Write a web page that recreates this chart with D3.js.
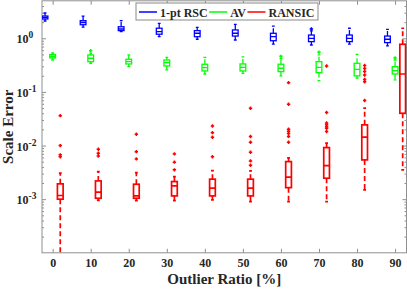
<!DOCTYPE html>
<html>
<head>
<meta charset="utf-8">
<script src="https://cdn.jsdelivr.net/npm/d3@7"></script>
<style>
  body { margin: 0; background: #fff; }
  text { font-family: "Liberation Serif", "Times New Roman", serif; font-weight: bold; fill: #262626; }
</style>
</head>
<body>
<div id="chart"></div>
<script>
// 1: DATA
const ratios = [0, 10, 20, 30, 40, 50, 60, 70, 80, 90];
const methods = ["1-pt RSC", "AV", "RANSIC"];

// each row: [lower whisker, q1, median, q3, upper whisker]
const rscBoxes = [
  [2.1, 2.29, 2.44, 2.6, 2.96], [1.62, 1.79, 1.97, 2.13, 2.6], [1.33, 1.39, 1.49, 1.64, 2.13],
  [1.07, 1.19, 1.33, 1.54, 1.9], [0.96, 1.07, 1.24, 1.39, 1.6], [0.93, 1.1, 1.24, 1.43, 1.82],
  [0.78, 0.9, 1.07, 1.24, 1.69], [0.75, 0.865, 1.0, 1.15, 1.37], [0.78, 0.865, 1.0, 1.15, 1.54],
  [0.72, 0.83, 0.96, 1.1, 1.47]
];
const rscOutliers = [[], [], [], [], [], [], [], [1.49], [], []];

const avBoxes = [
  [0.394, 0.43, 0.462, 0.499, 0.532], [0.342, 0.366, 0.424, 0.489, 0.53], [0.296, 0.332, 0.366, 0.406, 0.489],
  [0.257, 0.305, 0.351, 0.394, 0.442], [0.216, 0.246, 0.283, 0.328, 0.442], [0.222, 0.246, 0.288, 0.332, 0.45],
  [0.199, 0.239, 0.276, 0.328, 0.42], [0.162, 0.229, 0.288, 0.366, 0.489], [0.18, 0.199, 0.264, 0.342, 0.5],
  [0.167, 0.216, 0.249, 0.296, 0.394]
];
const avOutliers = [[], [0.587], [], [], [], [], [0.46], [0.55], [], [0.43]];

const ransicBoxes = [
  [1e-5, 1.0e-3, 1.17e-3, 1.93e-3, 3.05e-3], [0.95e-3, 1.04e-3, 1.35e-3, 2.19e-3, 3.27e-3],
  [0.94e-3, 1.04e-3, 1.15e-3, 1.9e-3, 3.13e-3], [0.94e-3, 1.15e-3, 1.77e-3, 2.13e-3, 2.64e-3],
  [0.97e-3, 1.15e-3, 1.6e-3, 2.36e-3, 3.41e-3], [0.9e-3, 1.15e-3, 1.6e-3, 2.36e-3, 3.37e-3],
  [0.9e-3, 1.64e-3, 2.57e-3, 5.02e-3, 5.89e-3], [0.9e-3, 2.46e-3, 4.23e-3, 9.16e-3, 0.0111],
  [1.49e-3, 5.4e-3, 0.0143, 0.0243, 0.0497], [3.52e-3, 0.04, 0.216, 0.773, 1.54]
];
const ransicOutliers = [
  [0.0361, 0.00998, 0.0067, 0.0062],
  [8.55e-3, 7.2e-3, 6.4e-3],
  [0.01626, 7.7e-3, 5.64e-3],
  [6.98e-3, 4.9e-3, 3.52e-3],
  [0.0232, 0.0174, 0.0143, 6.2e-3],
  [0.0497, 0.0147, 0.01154, 7.5e-3, 5.17e-3, 4.3e-3],
  [0.149, 0.0589, 0.0201, 0.0185, 0.0168, 0.0148, 0.01154],
  [0.305, 0.0414, 0.0264, 0.0243, 0.0225, 0.0209, 0.0183],
  [0.311, 0.272, 0.239, 0.207, 0.171, 0.155, 0.0693],
  []
];

const yTicks = [1e-3, 1e-2, 1e-1, 1];
const yTickExp = ["-3", "-2", "-1", "0"];

// 2: LAYOUT
const W = 407, H = 290;
const plot = { left: 42, right: 406.5, top: 0.8, bottom: 252.8 };

const series = [
  { name: methods[0], color: "#0000ff", boxes: rscBoxes, outliers: rscOutliers, offset: -2, lw: 1.3 },
  { name: methods[1], color: "#00ff00", boxes: avBoxes, outliers: avOutliers, offset: 0, lw: 1.3 },
  { name: methods[2], color: "#ff0000", boxes: ransicBoxes, outliers: ransicOutliers, offset: 2, lw: 1.7 }
];

const svg = d3.select("#chart").append("svg")
  .attr("width", W).attr("height", H);

// 3: SCALES
const x = d3.scaleLinear().domain([-2.8, 93]).range([plot.left, plot.right]);
const y = d3.scaleLog().domain([1e-4, 5]).range([plot.bottom, plot.top]);

const minorTicks = [];
for (let e = -4; e <= 0; e++) for (let m = 2; m <= 9; m++) {
  const v = m * Math.pow(10, e);
  if (v < 5) minorTicks.push(v);
}

// 4: AXES (ticks point inward on all four sides)
const axisColor = "#8f8f8f";
function styleAxis(g) {
  g.select(".domain").remove();
  g.selectAll(".tick line").attr("stroke", axisColor);
}

svg.append("g").attr("transform", `translate(0,${plot.bottom})`)
  .call(d3.axisBottom(x).tickValues(ratios).tickSize(-4).tickPadding(6))
  .call(styleAxis)
  .call(g => g.selectAll("text").attr("font-size", 12).attr("fill", "#262626")
    .style("font-family", '"Liberation Serif", serif').style("font-weight", "bold"));

svg.append("g").attr("transform", `translate(0,${plot.top})`)
  .call(d3.axisTop(x).tickValues(ratios).tickSize(-4).tickFormat(""))
  .call(styleAxis);

[[d3.axisLeft, plot.left], [d3.axisRight, plot.right]].forEach(([ax, px]) => {
  svg.append("g").attr("transform", `translate(${px},0)`)
    .call(ax(y).tickValues(yTicks).tickSize(-4).tickFormat(""))
    .call(styleAxis);
  svg.append("g").attr("transform", `translate(${px},0)`)
    .call(ax(y).tickValues(minorTicks).tickSize(-2).tickFormat(""))
    .call(styleAxis);
});

svg.append("rect")
  .attr("x", plot.left).attr("y", plot.top)
  .attr("width", plot.right - plot.left).attr("height", plot.bottom - plot.top)
  .attr("fill", "none").attr("stroke", axisColor);

// y tick labels as 10^k
const yLab = svg.append("g").selectAll("text")
  .data(yTicks).enter().append("text")
  .attr("x", 16.5)
  .attr("y", d => y(d) + 5)
  .attr("font-size", 12);
yLab.append("tspan").text("10");
yLab.append("tspan").attr("dy", -5).attr("font-size", 9.5).text((d, i) => yTickExp[i]);

// 5: BOXES
svg.append("clipPath").attr("id", "plotClip").append("rect")
  .attr("x", plot.left).attr("y", plot.top)
  .attr("width", plot.right - plot.left).attr("height", plot.bottom - plot.top);

const marks = svg.append("g").attr("clip-path", "url(#plotClip)");
const boxW = 1.5;

series.forEach(s => {
  const g = marks.append("g")
    .attr("stroke", s.color).attr("stroke-width", s.lw).attr("fill", "none");

  s.boxes.forEach((b, i) => {
    const cx = ratios[i] + s.offset;
    const [lo, q1, med, q3, hi] = b;
    // whiskers (dashed)
    g.append("line").attr("x1", x(cx)).attr("x2", x(cx))
      .attr("y1", y(q3)).attr("y2", y(hi)).attr("stroke-dasharray", "5,3");
    g.append("line").attr("x1", x(cx)).attr("x2", x(cx))
      .attr("y1", y(q1)).attr("y2", y(lo)).attr("stroke-dasharray", "5,3");
    // whisker caps
    [lo, hi].forEach(v => {
      g.append("line")
        .attr("x1", x(cx - boxW / 4)).attr("x2", x(cx + boxW / 4))
        .attr("y1", y(v)).attr("y2", y(v));
    });
    // box
    g.append("rect")
      .attr("x", x(cx - boxW / 2)).attr("width", x(cx + boxW / 2) - x(cx - boxW / 2))
      .attr("y", y(q3)).attr("height", y(q1) - y(q3))
      .attr("fill", "#fff");
    // median
    g.append("line")
      .attr("x1", x(cx - boxW / 2)).attr("x2", x(cx + boxW / 2))
      .attr("y1", y(med)).attr("y2", y(med));
    // outliers as "+"
    s.outliers[i].forEach(v => {
      g.append("path")
        .attr("transform", `translate(${x(cx)},${y(v)})`)
        .attr("d", "M-1.7,0H1.7M0,-1.7V1.7")
        .attr("stroke-width", 1.5);
    });
  });
});

// 6: LABELS
svg.append("text")
  .attr("x", (plot.left + plot.right) / 2).attr("y", 284)
  .attr("text-anchor", "middle").attr("font-size", 15)
  .text("Outlier Ratio [%]");

svg.append("text")
  .attr("transform", "rotate(-90)")
  .attr("x", -(plot.top + plot.bottom) / 2).attr("y", 12.5)
  .attr("text-anchor", "middle").attr("font-size", 15)
  .text("Scale Error");

// 7: LEGEND
const legend = svg.append("g");
const legendBox = legend.append("rect")
  .attr("x", 136).attr("y", 3).attr("height", 17)
  .attr("fill", "#fff").attr("stroke", "#8a8a8a");

let lx = 139;
series.forEach(s => {
  legend.append("line")
    .attr("x1", lx).attr("x2", lx + 18).attr("y1", 12).attr("y2", 12)
    .attr("stroke", s.color).attr("stroke-width", 1.5);
  const t = legend.append("text")
    .attr("x", lx + 21).attr("y", 16.5).attr("font-size", 12)
    .text(s.name);
  lx += 21 + t.node().getComputedTextLength() + 1.5;
});
legendBox.attr("width", lx - 136 + 2);
</script>
</body>
</html>
